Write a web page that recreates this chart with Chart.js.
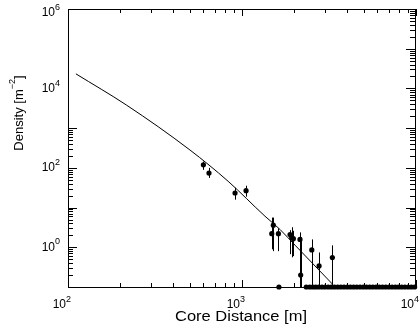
<!DOCTYPE html>
<html>
<head>
<meta charset="utf-8">
<script src="https://cdn.jsdelivr.net/npm/chart.js@4.4.0/dist/chart.umd.min.js"></script>
<style>
  body { margin: 0; background: #fff; }
  canvas { display: block; }
</style>
</head>
<body>
<canvas id="myChart" width="420" height="329"></canvas>
<script>
// fitted lateral distribution
const fitX = [111, 217, 502, 832, 1355, 1652, 2018, 3306];
const fitY = [23300, 3800, 282, 46, 6.07, 2.82, 1.13, 0.119];

// measured densities with error bars
const measX = [600, 646, 912, 1055, 1483, 1514, 1619, 1889, 1931, 1973, 2154, 2174, 2518, 2773, 3306];
const measY = [119, 74, 23.3, 26.6, 2.2, 3.6, 2.2, 2.1, 1.75, 1.65, 1.58, 0.2, 0.86, 0.34, 0.55];
const errLo = [89, 56, 15.8, 18.8, 0.89, 0.8, 0.8, 0.67, 0.56, 0.6, 0.1, 0.1, 0.1, 0.1, 0.1];
const errHi = [144, 100, 31.6, 35.5, 5.6, 5.6, 3.0, 2.7, 3.2, 2.6, 2.37, 1.78, 1.58, 0.74, 1.12];

// detectors with no signal, drawn on the lower edge
const zeroX = [1630, 2340, 2450, 2550, 2650, 2760, 2880, 3000, 3130, 3260, 3400, 3550, 3700,
  3860, 4030, 4200, 4380, 4570, 4770, 4980, 5190, 5420, 5650, 5900, 6150, 6420, 6700,
  6990, 7290, 7610, 7940, 8280, 8640, 9020, 9410, 9820];
const zeroLevel = 0.1;

// axis labels
const xTickValues = [100, 1000, 10000];
const xTickExp = ["2", "3", "4"];
const yTickValues = [1, 100, 10000, 1000000];
const yTickExp = ["0", "2", "4", "6"];

const font = "'Liberation Sans', Arial, sans-serif";

function toPoints(xs, ys) {
  return xs.map((x, i) => ({ x: x, y: ys[i] }));
}

// helper: text with a superscript
function supText(ctx, base, sup, x, y, size, supSize, align) {
  ctx.font = size + "px " + font;
  const wb = ctx.measureText(base).width;
  ctx.font = supSize + "px " + font;
  const ws = ctx.measureText(sup).width;
  let x0 = x;
  if (align === "right") x0 = x - wb - ws;
  ctx.textAlign = "left";
  ctx.textBaseline = "middle";
  ctx.font = size + "px " + font;
  ctx.fillText(base, x0, y);
  ctx.font = supSize + "px " + font;
  ctx.fillText(sup, x0 + wb, y - size * 0.45);
}

const framePlugin = {
  id: "frame",
  beforeDatasetsDraw(chart) {
    const ctx = chart.ctx;
    const xs = chart.scales.x;
    const ys = chart.scales.y;
    ctx.save();
    // error bars
    ctx.strokeStyle = "#000";
    ctx.lineWidth = 1;
    measX.forEach((x, i) => {
      const px = Math.round(xs.getPixelForValue(x)) + 0.5;
      ctx.beginPath();
      ctx.moveTo(px, ys.getPixelForValue(errHi[i]));
      ctx.lineTo(px, ys.getPixelForValue(errLo[i]));
      ctx.stroke();
    });
    ctx.restore();
  },
  afterDraw(chart) {
    const ctx = chart.ctx;
    const xs = chart.scales.x;
    const ys = chart.scales.y;
    const a = chart.chartArea;
    ctx.save();
    ctx.strokeStyle = "#000";
    ctx.lineWidth = 1;
    ctx.strokeRect(Math.round(a.left) + 0.5, Math.round(a.top) + 0.5,
      Math.round(a.right - a.left) - 1, Math.round(a.bottom - a.top));

    // x ticks, bottom and top, pointing inward
    for (let d = 2; d < 4; d++) {
      for (let m = 1; m <= 10; m++) {
        const v = m * Math.pow(10, d);
        const px = Math.round(xs.getPixelForValue(v)) + 0.5;
        const len = (m === 1 || m === 10) ? 7 : 4;
        ctx.beginPath();
        ctx.moveTo(px, a.bottom);
        ctx.lineTo(px, a.bottom - len);
        ctx.moveTo(px, a.top);
        ctx.lineTo(px, a.top + len);
        ctx.stroke();
      }
    }
    // y ticks: right side all decades, left side only the lower part
    for (let d = -1; d < 6; d++) {
      for (let m = 1; m <= 10; m++) {
        const v = m * Math.pow(10, d);
        const py = Math.round(ys.getPixelForValue(v)) + 0.5;
        const len = (m === 1 || m === 10) ? 9 : 5;
        ctx.beginPath();
        ctx.moveTo(a.right - 1, py);
        ctx.lineTo(a.right - 1 - len, py);
        if (v <= 1000) {
          ctx.moveTo(a.left, py);
          ctx.lineTo(a.left + len, py);
        }
        ctx.stroke();
      }
    }

    // tick labels
    ctx.fillStyle = "#000";
    xTickValues.forEach((v, i) => {
      const px = xs.getPixelForValue(v);
      ctx.font = "12px " + font;
      const wb = ctx.measureText("10").width;
      supText(ctx, "10", xTickExp[i], px - 2 - wb, a.bottom + 18, 12, 9, "left");
    });
    yTickValues.forEach((v, i) => {
      const py = Math.max(ys.getPixelForValue(v), a.top + 4);
      supText(ctx, "10", yTickExp[i], a.left - 8, py, 12, 9, "right");
    });

    // axis titles
    ctx.font = "14px " + font;
    const t = "Core Distance [m]";
    const w = ctx.measureText(t).width;
    ctx.save();
    ctx.translate(241, 317);
    ctx.scale(132 / w, 1);
    ctx.textAlign = "center";
    ctx.textBaseline = "middle";
    ctx.fillText(t, 0, 0);
    ctx.restore();

    ctx.save();
    ctx.translate(19, 113);
    ctx.rotate(-Math.PI / 2);
    ctx.font = "13px " + font;
    const b1 = "Density [m";
    const w1 = ctx.measureText(b1).width;
    ctx.font = "9px " + font;
    const w2 = ctx.measureText("\u22122").width;
    ctx.font = "13px " + font;
    const w3 = ctx.measureText("]").width;
    let x0 = -(w1 + w2 + w3) / 2;
    ctx.textAlign = "left";
    ctx.textBaseline = "middle";
    ctx.fillText(b1, x0, 0);
    ctx.font = "9px " + font;
    ctx.fillText("\u22122", x0 + w1, -6);
    ctx.font = "13px " + font;
    ctx.fillText("]", x0 + w1 + w2, 0);
    ctx.restore();

    ctx.restore();
  }
};

const ctx = document.getElementById("myChart").getContext("2d");
const densityChart = new Chart(ctx, {
  type: "scatter",
  data: {
    datasets: [
      {
        type: "line",
        data: toPoints(fitX, fitY),
        borderColor: "#000",
        borderWidth: 1,
        pointRadius: 0,
        fill: false,
        cubicInterpolationMode: "monotone",
      },
      {
        data: toPoints(measX, measY),
        backgroundColor: "#000",
        borderColor: "#000",
        pointRadius: 2.6,
        borderWidth: 0,
      },
      {
        data: zeroX.map((x) => ({ x: x, y: zeroLevel })),
        backgroundColor: "#000",
        borderColor: "#000",
        pointRadius: 2.6,
        borderWidth: 0,
        clip: false,
      },
    ],
  },
  options: {
    responsive: false,
    animation: false,
    layout: { padding: { left: 68, top: 9, right: 3, bottom: 42 } },
    plugins: { legend: { display: false }, tooltip: { enabled: false } },
    scales: {
      x: { type: "logarithmic", min: 100, max: 10000, display: false },
      y: { type: "logarithmic", min: 0.1, max: 1000000, display: false },
    },
  },
  plugins: [framePlugin],
});
</script>
</body>
</html>
